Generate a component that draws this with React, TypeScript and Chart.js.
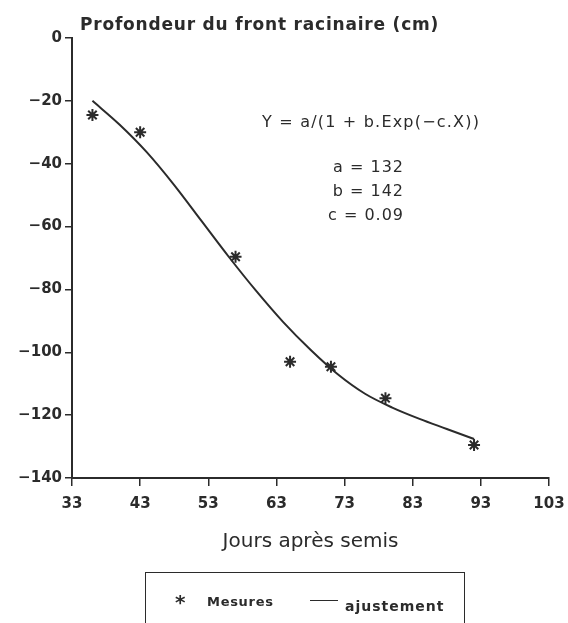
import React, { useEffect, useRef } from "react";
import { Chart, registerables } from "chart.js";

Chart.register(...registerables);

// Measured root-front depth (cm) vs days after sowing
const measureDays = [36, 43, 57, 65, 71, 79, 92];
const measureDepths = [-24.5, -30, -69.6, -103, -104.6, -114.6, -129.5];

// Fitted logistic curve
const fitDays = [36, 40, 44, 48, 52, 56, 60, 64, 68, 72, 76, 80, 84, 88, 92];
const fitDepths = [-20, -27.6, -36.4, -46.8, -58.2, -69.6, -80.4, -90.4, -99.2, -107, -113.2, -117.6, -121.2, -124.4, -127.6];

// Axis settings
const xMin = 33;
const xMax = 103;
const xStep = 10;
const yMin = -140;
const yMax = 0;
const yStep = 20;

const titleText = "Profondeur du front racinaire (cm)";
const xTitleText = "Jours après semis";
const formulaText = "Y = a/(1 + b.Exp(−c.X))";
const paramLines = ["a = 132", "b = 142", "c = 0.09"];
const legendLabels = ["Mesures", "ajustement"];

const FONT = "'DejaVu Sans', 'Liberation Sans', sans-serif";
const INK = "#2b2b2b";

const fmtTick = (v: number | string) => {
  const n = Number(v);
  return n < 0 ? "\u2212" + Math.abs(n) : String(n);
};

export default function App() {
  const canvasRef = useRef<HTMLCanvasElement | null>(null);

  useEffect(() => {
    document.body.style.margin = "0";
    const canvas = canvasRef.current;
    if (!canvas) return;
    const chart = new Chart(canvas, {
      type: "scatter",
      data: {
        datasets: [
          {
            label: legendLabels[0],
            data: measureDays.map((d, i) => ({ x: d, y: measureDepths[i] })),
            pointStyle: "star",
            pointRadius: 6,
            borderColor: INK,
            backgroundColor: INK,
            borderWidth: 2,
            showLine: false,
          },
          {
            label: legendLabels[1],
            data: fitDays.map((d, i) => ({ x: d, y: fitDepths[i] })),
            showLine: true,
            pointRadius: 0,
            borderColor: INK,
            borderWidth: 2,
            cubicInterpolationMode: "monotone",
            fill: false,
          },
        ],
      },
      options: {
        responsive: false,
        animation: false,
        layout: { padding: { top: 38, right: 19, left: 0, bottom: 63 } },
        plugins: {
          legend: { display: false },
          tooltip: { enabled: false },
          title: { display: false },
        },
        scales: {
          x: {
            type: "linear",
            min: xMin,
            max: xMax,
            afterFit: (axis: any) => {
              axis.height = 82;
              axis.paddingLeft = 0;
              axis.paddingRight = 0;
            },
            ticks: {
              stepSize: xStep,
              color: INK,
              padding: 9,
              font: { family: FONT, size: 15, weight: "bold" },
            },
            grid: {
              display: true,
              drawOnChartArea: false,
              drawTicks: true,
              tickLength: 8,
              color: INK,
              lineWidth: 1.5,
            },
            border: { display: true, color: INK, width: 2 },
            title: {
              display: true,
              text: xTitleText,
              color: INK,
              padding: { top: 0, bottom: 6 },
              font: { family: FONT, size: 20 },
            },
          },
          y: {
            type: "linear",
            min: yMin,
            max: yMax,
            afterFit: (axis: any) => {
              axis.width = 72;
              axis.paddingTop = 0;
              axis.paddingBottom = 0;
            },
            ticks: {
              stepSize: yStep,
              color: INK,
              padding: 3,
              font: { family: FONT, size: 15, weight: "bold" },
              callback: (v: number | string) => fmtTick(v),
            },
            grid: {
              display: true,
              drawOnChartArea: false,
              drawTicks: true,
              tickLength: 7,
              color: INK,
              lineWidth: 1.5,
            },
            border: { display: true, color: INK, width: 2 },
          },
        },
      },
    });
    return () => chart.destroy();
  }, []);

  const abs = (style: React.CSSProperties): React.CSSProperties => ({
    position: "absolute",
    whiteSpace: "nowrap",
    fontFamily: FONT,
    color: INK,
    ...style,
  });

  return (
    <div
      style={{
        position: "absolute",
        left: 0,
        top: 0,
        width: 568,
        height: 623,
        overflow: "hidden",
        background: "#fff",
      }}
    >
      <canvas ref={canvasRef} width={568} height={623} style={{ display: "block" }} />
      <div
        style={abs({
          left: 80,
          top: 14,
          fontSize: 17,
          fontWeight: "bold",
          lineHeight: "20px",
          letterSpacing: "0.8px",
        })}
      >
        {titleText}
      </div>
      <div style={abs({ left: 262, top: 112, fontSize: 16, lineHeight: "20px", letterSpacing: "1.2px" })}>
        {formulaText}
      </div>
      {paramLines.map((t, i) => (
        <div
          key={t}
          style={abs({
            left: 0,
            width: 404,
            textAlign: "right",
            top: 157 + i * 24,
            fontSize: 16,
            lineHeight: "20px",
            letterSpacing: "1px",
          })}
        >
          {t}
        </div>
      ))}
      <div
        style={{
          position: "absolute",
          left: 145,
          top: 572,
          width: 320,
          height: 80,
          border: `1.5px solid ${INK}`,
          boxSizing: "border-box",
        }}
      />
      <div style={abs({ left: 175, top: 592, fontSize: 20, fontWeight: "bold", lineHeight: "20px" })}>*</div>
      <div
        style={abs({
          left: 207,
          top: 593,
          fontSize: 13,
          fontWeight: "bold",
          lineHeight: "18px",
          letterSpacing: "0.7px",
        })}
      >
        {legendLabels[0]}
      </div>
      <div
        style={{ position: "absolute", left: 310, top: 600, width: 28, height: 0, borderTop: `1.5px solid ${INK}` }}
      />
      <div
        style={abs({
          left: 345,
          top: 596,
          fontSize: 14,
          fontWeight: "bold",
          lineHeight: "20px",
          letterSpacing: "1px",
        })}
      >
        {legendLabels[1]}
      </div>
    </div>
  );
}
